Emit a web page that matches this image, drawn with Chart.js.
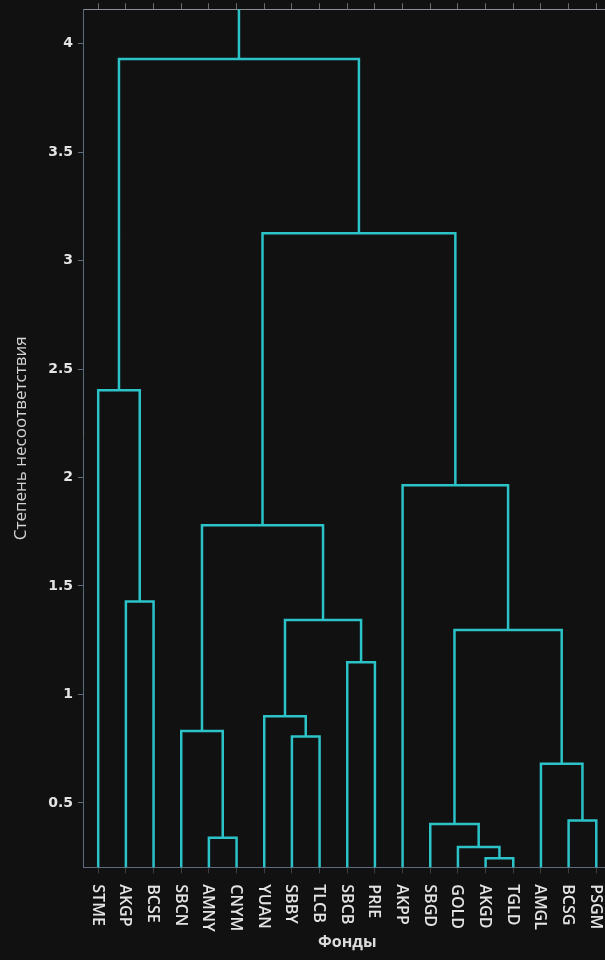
<!DOCTYPE html>
<html>
<head>
<meta charset="utf-8">
<script src="https://cdn.jsdelivr.net/npm/chart.js@4.4.1/dist/chart.umd.min.js"></script>
<style>
  html, body { margin: 0; padding: 0; background: #111111; overflow: hidden; }
  #wrap { width: 605px; height: 960px; overflow: hidden; }
</style>
</head>
<body>
<div id="wrap"><canvas id="dendro" width="620" height="960"></canvas></div>
<script>
// leaves, left to right
const leafNames = ['STME', 'AKGP', 'BCSE', 'SBCN', 'AMNY', 'CNYM', 'YUAN', 'SBBY', 'TLCB', 'SBCB',
  'PRIE', 'AKPP', 'SBGD', 'GOLD', 'AKGD', 'TGLD', 'AMGL', 'BCSG', 'PSGM'];

// merges: ids 0..18 are leaves, merge k gets id 19 + k
const mergeLeft = [14, 13, 4, 12, 17, 16, 7, 3, 6, 9, 22, 27, 1, 26, 11, 0, 32, 34];
const mergeRight = [15, 19, 5, 20, 18, 23, 8, 21, 25, 10, 24, 28, 2, 30, 29, 31, 33, 35];
const mergeHeight = [0.245, 0.297, 0.339, 0.403, 0.419, 0.68, 0.806, 0.831, 0.90, 1.148,
  1.297, 1.343, 1.428, 1.78, 1.964, 2.403, 3.127, 3.93];

const yTicks = [0.5, 1, 1.5, 2, 2.5, 3, 3.5, 4];
const yMin = 0.203;
const yMax = 4.159;
const xMin = -0.55;
const xMax = 18.55;

const lineColor = '#2cc3c8';

// x position and height of each cluster
const clusterX = leafNames.map((_, i) => i);
const clusterH = leafNames.map(() => 0);
mergeHeight.forEach((h, k) => {
  clusterX.push((clusterX[mergeLeft[k]] + clusterX[mergeRight[k]]) / 2);
  clusterH.push(h);
});

const datasets = mergeHeight.map((h, k) => {
  const a = mergeLeft[k], b = mergeRight[k];
  return {
    data: [
      { x: clusterX[a], y: clusterH[a] },
      { x: clusterX[a], y: h },
      { x: clusterX[b], y: h },
      { x: clusterX[b], y: clusterH[b] }
    ],
    borderColor: lineColor,
    borderWidth: 2.5,
    pointRadius: 0,
    showLine: true,
    fill: false,
    tension: 0
  };
});
// stem above the root
const rootId = clusterX.length - 1;
datasets.push({
  data: [{ x: clusterX[rootId], y: clusterH[rootId] }, { x: clusterX[rootId], y: yMax }],
  borderColor: lineColor,
  borderWidth: 2.5,
  pointRadius: 0,
  showLine: true,
  fill: false
});

const leafTicks = (scale) => { scale.ticks = leafNames.map((_, i) => ({ value: i })); };

const leafLabels = {
  id: 'leafLabels',
  afterDraw(chart) {
    const xs = chart.scales.x;
    const ctx = chart.ctx;
    ctx.save();
    ctx.font = '600 16px "Open Sans"';
    ctx.fillStyle = '#e4e4e4';
    ctx.textAlign = 'left';
    ctx.textBaseline = 'middle';
    leafNames.forEach((name, i) => {
      ctx.save();
      ctx.translate(xs.getPixelForValue(i) - 1, xs.top + 17);
      ctx.rotate(Math.PI / 2);
      ctx.fillText(name, 0, 0);
      ctx.restore();
    });
    ctx.restore();
  }
};

new Chart(document.getElementById('dendro').getContext('2d'), {
  type: 'scatter',
  data: { datasets: datasets },
  plugins: [leafLabels],
  options: {
    responsive: false,
    animation: false,
    layout: { padding: { top: 3, right: 8.5, bottom: 0, left: 0 } },
    plugins: { legend: { display: false }, tooltip: { enabled: false } },
    scales: {
      x: {
        type: 'linear',
        position: 'bottom',
        min: xMin,
        max: xMax,
        afterBuildTicks: leafTicks,
        afterFit: (s) => { s.height = 92.7; s.paddingLeft = 0; s.paddingRight = 0; },
        ticks: { display: false },
        grid: { drawOnChartArea: false, drawTicks: true, tickLength: 6, tickColor: '#3c3f44' },
        border: { color: '#5d6b7e', width: 1 },
        title: {
          display: true,
          text: 'Фонды',
          color: '#dcdcdc',
          font: { family: 'Open Sans', size: 16, weight: 'bold' },
          padding: { top: 0, bottom: 8 }
        }
      },
      x2: {
        type: 'linear',
        position: 'top',
        min: xMin,
        max: xMax,
        afterBuildTicks: leafTicks,
        afterFit: (s) => { s.height = 6.3; s.paddingLeft = 0; s.paddingRight = 0; },
        ticks: { display: false },
        grid: { drawOnChartArea: false, drawTicks: true, tickLength: 6, tickColor: '#6e6e6e' },
        border: { color: '#8a8f96', width: 1 }
      },
      y: {
        type: 'linear',
        position: 'left',
        min: yMin,
        max: yMax,
        afterBuildTicks: (s) => { s.ticks = yTicks.map(v => ({ value: v })); },
        afterFit: (s) => { s.width = 83; s.paddingTop = 0; s.paddingBottom = 0; },
        ticks: {
          color: '#e4e4e4',
          padding: 5,
          font: { family: 'DejaVu Sans', size: 14, weight: 'bold' },
          callback: (v) => String(v)
        },
        grid: { drawOnChartArea: false, drawTicks: true, tickLength: 5, tickColor: '#5d6b7e' },
        border: { color: '#5d6b7e', width: 1 },
        title: {
          display: true,
          text: 'Степень несоответствия',
          color: '#d4d4d4',
          font: { family: 'Open Sans', size: 17 },
          padding: { top: 11, bottom: 0 }
        }
      }
    }
  }
});
</script>
</body>
</html>
